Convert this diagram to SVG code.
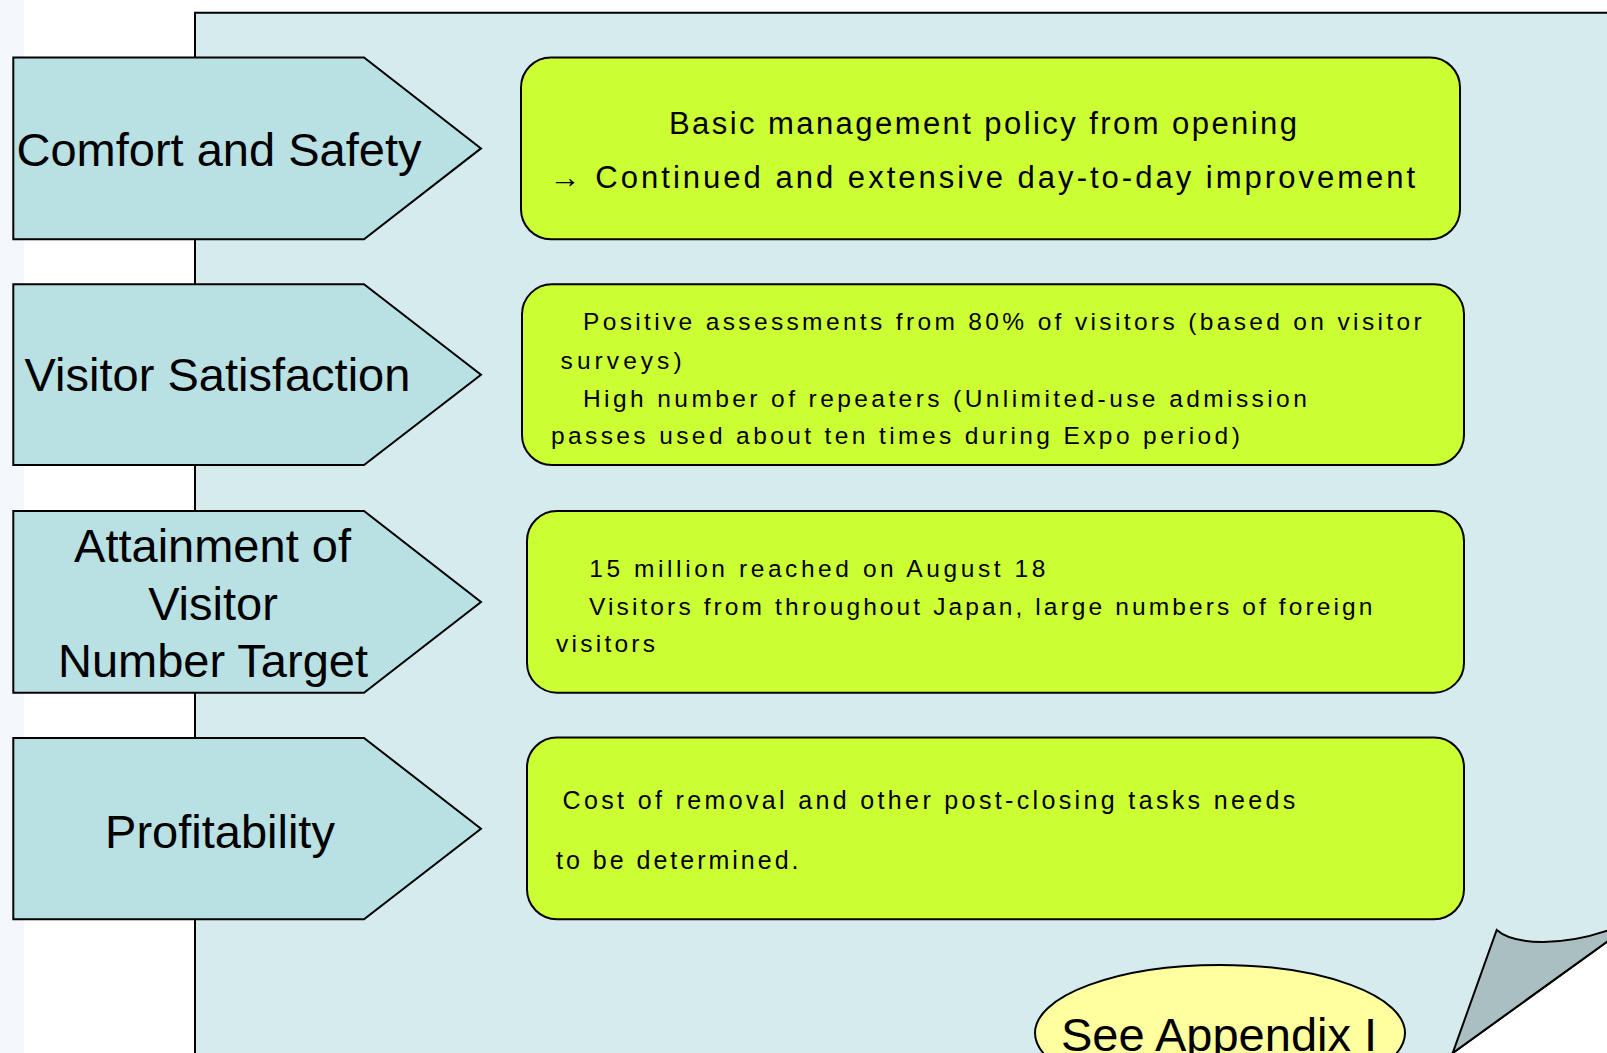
<svg xmlns="http://www.w3.org/2000/svg" width="1607" height="1053" viewBox="0 0 1607 1053">
  <style>
    .arrow { fill: #b9e0e3; stroke: #000; stroke-width: 2; stroke-linejoin: miter; }
    .box { fill: #ccff33; stroke: #000; stroke-width: 2; }
    .lbl { font-family: "Liberation Sans", Arial, sans-serif; font-size: 47px; fill: #000; text-anchor: middle; }
    .t { font-family: "Liberation Sans", Arial, sans-serif; fill: #000; }
    .t31 { font-size: 31px; }
    .t24 { font-size: 24.5px; }
    .t25 { font-size: 25px; }
  </style>
  <rect x="0" y="0" width="1607" height="1053" fill="#ffffff"/>
  <rect x="0" y="0" width="24" height="1053" fill="#f4f7fc"/>

  <g id="panel">
    <path d="M195,1060 V12.7 H1612 V938.1 L1451.5,1054 L1451.5,1060 Z" fill="#d6ebee" stroke="#000" stroke-width="2"/>
  </g>

  <g id="connectors"></g>

  <g id="node-comfort">
    <path class="arrow" d="M13.3,57.5 H364 L481,148.4 L364,239.3 H13.3 Z"/>
    <text class="lbl" x="219" y="165.5">Comfort and Safety</text>
  </g>
  <g id="node-satisfaction">
    <path class="arrow" d="M13.3,284.3 H364 L481,374.7 L364,465 H13.3 Z"/>
    <text class="lbl" x="217.5" y="390.7">Visitor Satisfaction</text>
  </g>
  <g id="node-target">
    <path class="arrow" d="M13.3,511 H364 L481,602 L364,692.7 H13.3 Z"/>
    <text class="lbl" x="212.5" y="561.7">Attainment of</text>
    <text class="lbl" x="213" y="620">Visitor</text>
    <text class="lbl" x="213" y="676.7">Number Target</text>
  </g>
  <g id="node-profit">
    <path class="arrow" d="M13.3,738 H364 L481,828.7 L364,919.3 H13.3 Z"/>
    <text class="lbl" x="220" y="848.3">Profitability</text>
  </g>

  <g id="box-comfort">
    <rect class="box" x="521" y="57.5" width="939" height="181.8" rx="30" ry="30"/>
    <text class="t t31" x="669" y="134.3" textLength="628">Basic management policy from opening</text>
    <text class="t t31" x="549.7" y="188.3" textLength="865.5">→ Continued and extensive day-to-day improvement</text>
  </g>
  <g id="box-satisfaction">
    <rect class="box" x="522" y="284.3" width="942" height="180.7" rx="30" ry="30"/>
    <text class="t t24" x="583" y="330" textLength="838.6">Positive assessments from 80% of visitors (based on visitor</text>
    <text class="t t24" x="560.6" y="369" textLength="121">surveys)</text>
    <text class="t t24" x="583" y="406.7" textLength="723.8">High number of repeaters (Unlimited-use admission</text>
    <text class="t t24" x="551" y="443.5" textLength="688.8">passes used about ten times during Expo period)</text>
  </g>
  <g id="box-target">
    <rect class="box" x="527" y="511" width="937" height="181.7" rx="30" ry="30"/>
    <text class="t t24" x="589.3" y="577.3" textLength="456">15 million reached on August 18</text>
    <text class="t t24" x="589" y="615" textLength="783.4">Visitors from throughout Japan, large numbers of foreign</text>
    <text class="t t24" x="556" y="651.7" textLength="99">visitors</text>
  </g>
  <g id="box-profit">
    <rect class="box" x="527" y="737.5" width="937" height="181.8" rx="30" ry="30"/>
    <text class="t t25" x="562.5" y="809.3" textLength="732.8">Cost of removal and other post-closing tasks needs</text>
    <text class="t t25" x="556" y="869.3" textLength="242.5">to be determined.</text>
  </g>

  <g id="node-appendix">
    <ellipse cx="1220" cy="1033" rx="185" ry="68" fill="#ffffa0" stroke="#000" stroke-width="2"/>
    <text class="lbl" x="1219" y="1050.5">See Appendix I</text>
  </g>

  <g id="page-curl">
    <path d="M1496.7,930 C1515,946 1565,946 1612,929 L1612,938.1 L1452.7,1053 Z" fill="#aabfc2" stroke="#000" stroke-width="2" stroke-linejoin="miter"/>
  </g>
</svg>
